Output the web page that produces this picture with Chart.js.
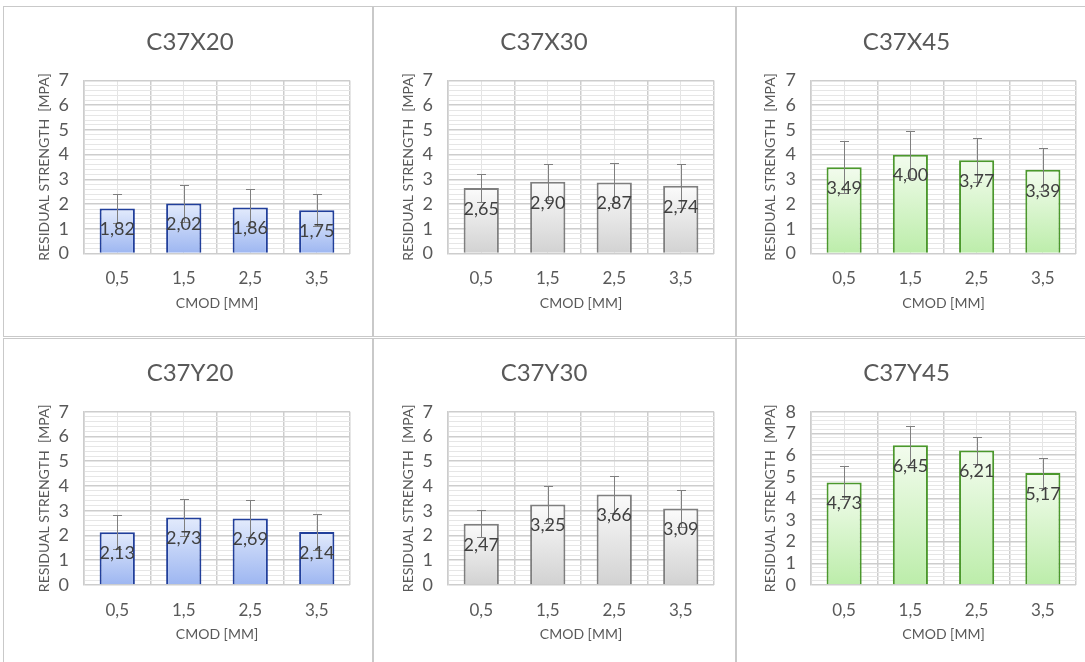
<!DOCTYPE html>
<html><head><meta charset="utf-8">
<script src="https://cdn.jsdelivr.net/npm/chart.js@4.4.1/dist/chart.umd.min.js"></script>
<style>
html,body{margin:0;padding:0;background:#fff;}
body{width:1085px;height:662px;overflow:hidden;position:relative;font-family:Lato,sans-serif;}
.panel{position:absolute;border:1px solid #c9c9c9;box-sizing:border-box;background:#fff;}
canvas{position:absolute;}
</style></head><body>
<script>
// ---- data ----
const categories = ['0,5', '1,5', '2,5', '3,5'];
const titles = ['C37X20', 'C37X30', 'C37X45', 'C37Y20', 'C37Y30', 'C37Y45'];
const c37x20 = [1.82, 2.02, 1.86, 1.75];
const c37x20Err = [0.58, 0.74, 0.75, 0.65];
const c37x30 = [2.65, 2.90, 2.87, 2.74];
const c37x30Err = [0.55, 0.72, 0.81, 0.88];
const c37x45 = [3.49, 4.00, 3.77, 3.39];
const c37x45Err = [1.06, 0.96, 0.89, 0.86];
const c37y20 = [2.13, 2.73, 2.69, 2.14];
const c37y20Err = [0.68, 0.74, 0.76, 0.71];
const c37y30 = [2.47, 3.25, 3.66, 3.09];
const c37y30Err = [0.55, 0.75, 0.74, 0.75];
const c37y45 = [4.73, 6.45, 6.21, 5.17];
const c37y45Err = [0.75, 0.89, 0.64, 0.69];
const yMaxes = [7, 7, 7, 7, 7, 8];
const yTitle = 'RESIDUAL STRENGTH  [MPA]';
const xTitle = 'CMOD [MM]';

const seriesValues = [c37x20, c37x30, c37x45, c37y20, c37y30, c37y45];
const seriesErrors = [c37x20Err, c37x30Err, c37x45Err, c37y20Err, c37y30Err, c37y45Err];

// ---- styles / layout ----
const themes = {
  blue:  {border: '#213f9b', top: '#e3ebfc', bottom: '#9db6f1'},
  gray:  {border: '#7f7f7f', top: '#fbfbfb', bottom: '#d2d2d2'},
  green: {border: '#4b982c', top: '#f3fcee', bottom: '#bcedaa'}
};
const panelThemes = ['blue', 'gray', 'green', 'blue', 'gray', 'green'];
const panelDivs = [
  {l: 3, t: 6, w: 370, h: 331}, {l: 373, t: 6, w: 363, h: 331}, {l: 736, t: 6, w: 360, h: 331},
  {l: 3, t: 338, w: 370, h: 330}, {l: 373, t: 338, w: 363, h: 330}, {l: 736, t: 338, w: 360, h: 330}
];
const colGeo = [
  {cl: 5, cw: 367, pl: 25, yw: 54, pr: 22, ytp: 5.6},
  {cl: 374, cw: 361, pl: 0, yw: 74, pr: 21, ytp: 25.6},
  {cl: 737, cw: 348, pl: 0, yw: 74, pr: 9, ytp: 24.6}
];
const rowGeo = [
  {ct: 8, ch: 329, pt: 19.6, tb: 24.1, pb: 25.5},
  {ct: 339, ch: 323, pt: 19.6, tb: 24.3, pb: 19}
];
const TEXT = '#595959';
const FONT = 'Lato';

function isInt(v) { return Math.abs(v - Math.round(v)) < 1e-6; }
function fmt(v) { return v.toFixed(2).replace('.', ','); }

function barGradient(ctx, theme) {
  const chart = ctx.chart;
  const area = chart.chartArea;
  if (!area || ctx.type !== 'data' || !chart.scales.y) return theme.bottom;
  const ys = chart.scales.y;
  const top = ys.getPixelForValue(ctx.raw);
  const bot = ys.getPixelForValue(0);
  if (!isFinite(top) || !isFinite(bot) || top === bot) return theme.bottom;
  const g = chart.ctx.createLinearGradient(0, top, 0, bot);
  g.addColorStop(0, theme.top);
  g.addColorStop(1, theme.bottom);
  return g;
}

const errorAndLabelPlugin = {
  id: 'errorAndLabel',
  afterDatasetsDraw(chart) {
    const ctx = chart.ctx;
    const ds = chart.data.datasets[0];
    const meta = chart.getDatasetMeta(0);
    const ys = chart.scales.y;
    ctx.save();
    ctx.strokeStyle = '#7f7f7f';
    ctx.lineWidth = 1;
    meta.data.forEach((bar, i) => {
      const v = ds.data[i], e = ds.errors[i];
      const x = Math.round(bar.x) + 0.5;
      const yt = Math.round(ys.getPixelForValue(v + e)) + 0.5;
      const yb = Math.round(ys.getPixelForValue(v - e)) + 0.5;
      ctx.beginPath();
      ctx.moveTo(x, yt); ctx.lineTo(x, yb);
      ctx.moveTo(x - 4.5, yt); ctx.lineTo(x + 4.5, yt);
      ctx.moveTo(x - 4.5, yb); ctx.lineTo(x + 4.5, yb);
      ctx.stroke();
    });
    ctx.fillStyle = '#404040';
    ctx.font = '18px ' + FONT;
    ctx.textAlign = 'center';
    ctx.textBaseline = 'middle';
    meta.data.forEach((bar, i) => {
      ctx.fillText(fmt(ds.data[i]), bar.x, bar.y + 21);
    });
    ctx.restore();
  }
};

panelDivs.forEach(p => {
  const d = document.createElement('div');
  d.className = 'panel';
  d.style.left = p.l + 'px'; d.style.top = p.t + 'px';
  d.style.width = p.w + 'px'; d.style.height = p.h + 'px';
  document.body.appendChild(d);
});

for (let idx = 0; idx < 6; idx++) {
  const col = colGeo[idx % 3], row = rowGeo[Math.floor(idx / 3)];
  const theme = themes[panelThemes[idx]];
  const cv = document.createElement('canvas');
  cv.width = col.cw; cv.height = row.ch;
  cv.style.left = col.cl + 'px'; cv.style.top = row.ct + 'px';
  cv.style.width = col.cw + 'px'; cv.style.height = row.ch + 'px';
  document.body.appendChild(cv);

  new Chart(cv, {
    type: 'bar',
    data: {
      labels: categories,
      datasets: [{
        data: seriesValues[idx],
        errors: seriesErrors[idx],
        backgroundColor: c => barGradient(c, theme),
        borderColor: theme.border,
        borderWidth: 2,
        borderSkipped: 'bottom',
        barPercentage: 0.53,
        categoryPercentage: 1
      }]
    },
    options: {
      responsive: false,
      animation: false,
      devicePixelRatio: 1,
      layout: {padding: {left: col.pl, right: col.pr, top: row.pt, bottom: row.pb}},
      plugins: {
        legend: {display: false},
        tooltip: {enabled: false},
        title: {
          display: true, text: titles[idx], color: TEXT,
          font: {family: FONT, size: 24, weight: 'normal', lineHeight: 1.2},
          padding: {top: 0, bottom: row.tb}
        }
      },
      scales: {
        x: {
          type: 'category', offset: true,
          grid: {offset: true, color: '#cdcdcd', lineWidth: 1.5, drawTicks: false},
          border: {display: false},
          ticks: {color: TEXT, font: {family: FONT, size: 17}, padding: 15, maxRotation: 0},
          title: {display: true, text: xTitle, color: TEXT, font: {family: FONT, size: 14}, padding: {top: 0, bottom: 0}},
          afterFit: s => { s.height = 58; }
        },
        x2: {
          type: 'category', position: 'bottom', offset: true,
          grid: {offset: false, color: '#e4e4e4', lineWidth: 1, drawTicks: false},
          border: {display: false},
          ticks: {display: false},
          afterFit: s => { s.height = 0; }
        },
        y: {
          min: 0, max: yMaxes[idx],
          ticks: {
            stepSize: 0.2, autoSkip: false,
            callback: v => isInt(v) ? String(Math.round(v)) : '',
            color: TEXT, font: {family: FONT, size: 18}, padding: 15
          },
          grid: {
            color: c => isInt(c.tick.value) ? '#cdcdcd' : '#e6e6e6',
            lineWidth: c => isInt(c.tick.value) ? 1.5 : 1,
            drawTicks: false
          },
          border: {display: true, color: '#cdcdcd', width: 1.5},
          title: {display: true, text: yTitle, color: TEXT, font: {family: FONT, size: 14}, padding: {top: col.ytp, bottom: 0}},
          afterFit: s => { s.width = col.yw; }
        }
      }
    },
    plugins: [errorAndLabelPlugin]
  });
}
</script>
</body></html>
